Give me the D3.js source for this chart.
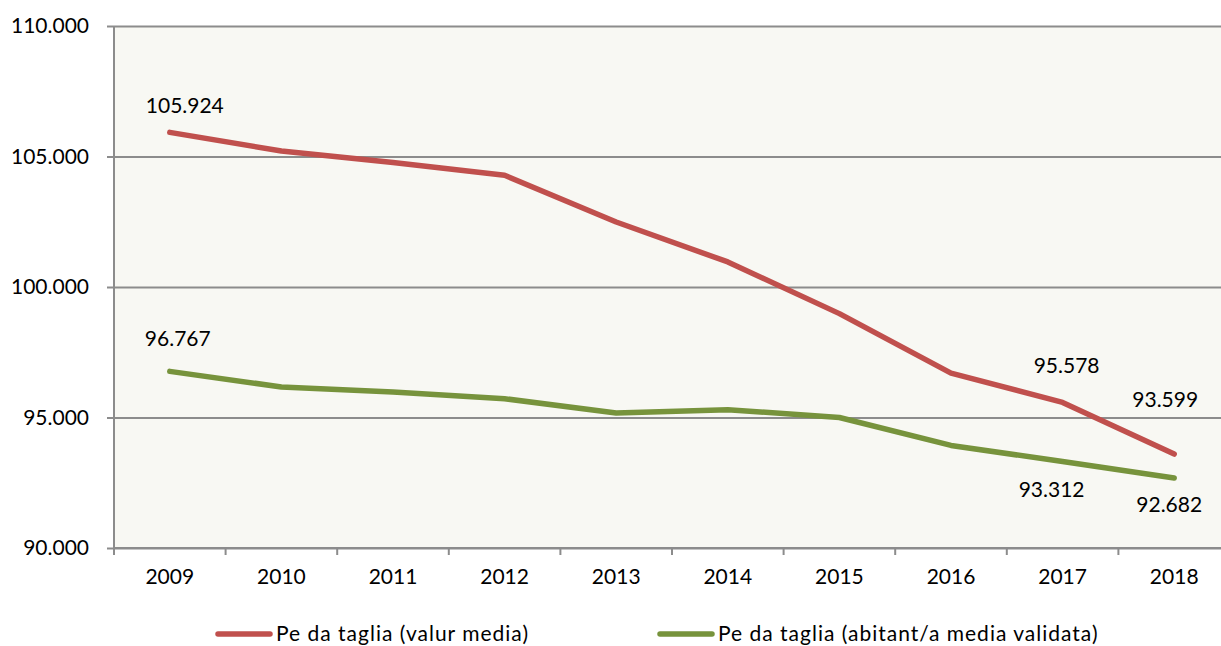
<!DOCTYPE html>
<meta charset="utf-8" />
<style>
  body { margin: 0; background: #fff; }
  svg { display: block; font-family: Lato, "Liberation Sans", sans-serif; }
</style>
<body>
<script src="https://d3js.org/d3.v7.min.js"></script>
<script>

// data
var years = ["2009", "2010", "2011", "2012", "2013", "2014", "2015", "2016", "2017", "2018"];
var valurMedia = [105924, 105210, 104770, 104280, 102490, 100960, 98980, 96700, 95578, 93599];
var abitantMedia = [96767, 96170, 95980, 95720, 95170, 95300, 95000, 93930, 93312, 92682];
var yTicks = [90000, 95000, 100000, 105000, 110000];
var seriesNames = ["Pe da taglia (valur media)", "Pe da taglia (abitant/a media validata)"];
var labelled = [0, 8, 9];

var W = 1221, H = 646;
var pLeft = 114, pRight = 1230, pTop = 26, pBottom = 548;

var fmt = d3.formatLocale({decimal: ",", thousands: ".", grouping: [3], currency: ["", ""]}).format(",d");

var x = d3.scaleBand().domain(years).range([pLeft, pRight]);
var y = d3.scaleLinear().domain([90000, 110000]).range([pBottom, pTop]);
var cx = function(i) { return x(years[i]) + x.bandwidth() / 2; };

var svg = d3.select("body").append("svg")
    .attr("width", W)
    .attr("height", H);

// plot background
svg.append("rect")
    .attr("x", pLeft).attr("y", pTop)
    .attr("width", pRight - pLeft).attr("height", pBottom - pTop)
    .attr("fill", "#f8f8f3");

// y axis with gridlines
var yAxis = svg.append("g")
    .attr("transform", "translate(107,0)")
    .call(d3.axisLeft(y).tickValues(yTicks).tickFormat(fmt)
        .tickSize(-(pRight - 107)).tickPadding(18));
yAxis.select(".domain").remove();
yAxis.selectAll("line").attr("stroke", "#8c8c8c").attr("stroke-width", 2);
yAxis.selectAll("text").attr("font-size", 21).attr("fill", "#000")
    .attr("font-family", "Lato, sans-serif");

// left axis line
svg.append("line")
    .attr("x1", pLeft).attr("x2", pLeft)
    .attr("y1", pTop).attr("y2", pBottom)
    .attr("stroke", "#8c8c8c").attr("stroke-width", 2);

// x axis
var xAxis = svg.append("g")
    .attr("transform", "translate(0," + pBottom + ")")
    .call(d3.axisBottom(x).tickSize(0).tickPadding(21));
xAxis.select(".domain").remove();
xAxis.selectAll("text").attr("font-size", 21).attr("fill", "#000")
    .attr("font-family", "Lato, sans-serif");

svg.append("line")
    .attr("x1", pLeft).attr("x2", pRight)
    .attr("y1", pBottom).attr("y2", pBottom)
    .attr("stroke", "#8c8c8c").attr("stroke-width", 2);

// tick marks between categories
svg.append("g").selectAll("line")
    .data(years)
    .join("line")
    .attr("x1", function(d) { return x(d); })
    .attr("x2", function(d) { return x(d); })
    .attr("y1", pBottom).attr("y2", pBottom + 7)
    .attr("stroke", "#8c8c8c").attr("stroke-width", 2);

var series = [
  {name: seriesNames[0], values: valurMedia, color: "#c0504d",
   offsets: [[15, -19], [4, -29], [-9, -47]]},
  {name: seriesNames[1], values: abitantMedia, color: "#77933c",
   offsets: [[8, -25], [-11, 35], [-5, 34]]}
];

var line = d3.line()
    .x(function(d, i) { return cx(i); })
    .y(function(d) { return y(d); });

series.forEach(function(s) {
  svg.append("path")
      .datum(s.values)
      .attr("d", line)
      .attr("fill", "none")
      .attr("stroke", s.color)
      .attr("stroke-width", 5.5)
      .attr("stroke-linecap", "round")
      .attr("stroke-linejoin", "round");

  svg.append("g").selectAll("text")
      .data(labelled)
      .join("text")
      .attr("x", function(d, k) { return cx(d) + s.offsets[k][0]; })
      .attr("y", function(d, k) { return y(s.values[d]) + s.offsets[k][1]; })
      .attr("text-anchor", "middle")
      .attr("font-size", 21)
      .text(function(d) { return fmt(s.values[d]); });
});

// legend
var legendX = [215, 657];
var legend = svg.append("g").selectAll("g")
    .data(series)
    .join("g")
    .attr("transform", function(d, i) { return "translate(" + legendX[i] + ",634)"; });

legend.append("line")
    .attr("x1", 3).attr("x2", 55)
    .attr("stroke", function(d) { return d.color; })
    .attr("stroke-width", 5.5)
    .attr("stroke-linecap", "round");

legend.append("text")
    .attr("x", 61).attr("y", 7)
    .attr("font-size", 21)
    .attr("letter-spacing", 1)
    .text(function(d) { return d.name; });

</script>
</body>
